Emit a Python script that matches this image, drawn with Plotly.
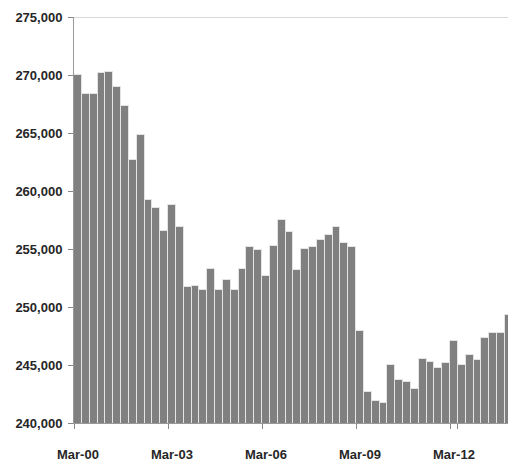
import plotly.graph_objects as go

# Quarter labels, March 2000 through December 2013
months = ["Mar", "Jun", "Sep", "Dec"]
years = ["00", "01", "02", "03", "04", "05", "06", "07", "08", "09", "10", "11", "12", "13"]
quarters = [f"{m}-{y}" for y in years for m in months]

# Quarterly values
values = [
    270000, 268400, 268400, 270200, 270300, 269000, 267300, 262700,
    264800, 259200, 258500, 256550, 258800, 256900, 251700, 251800,
    251500, 253300, 251500, 252300, 251500, 253300, 255200, 254900,
    252700, 255300, 257500, 256500, 253200, 255000, 255200, 255800,
    256200, 256900, 255500, 255200, 247900, 242700, 241900, 241700,
    245000, 243700, 243500, 242900, 245500, 245300, 244700, 245200,
    247100, 245000, 245900, 245400, 247300, 247800, 247800, 249300,
]

tick_labels = ["Mar-00", "Mar-03", "Mar-06", "Mar-09", "Mar-12"]
y_ticks = [240000, 245000, 250000, 255000, 260000, 265000, 270000, 275000]

label_font = dict(family="Liberation Sans, Arial, sans-serif", size=13,
                  color="#262626", weight="bold")

fig = go.Figure(
    go.Bar(
        x=quarters,
        y=values,
        marker=dict(color="#808080", line=dict(color="#e4e4e4", width=1)),
    )
)

fig.update_layout(
    width=508,
    height=465,
    margin=dict(l=74, r=0, t=17, b=42),
    paper_bgcolor="white",
    plot_bgcolor="white",
    bargap=0,
    showlegend=False,
    shapes=[
        dict(type="line", xref="paper", yref="y", x0=0, x1=1, y0=275000, y1=275000,
             line=dict(color="#d8d8d8", width=2)),
    ],
)

fig.update_xaxes(
    type="category",
    categoryorder="array",
    categoryarray=quarters,
    range=[-0.5, 54.9],
    tickmode="array",
    tickvals=tick_labels,
    ticktext=tick_labels,
    tickson="boundaries",
    tickangle=0,
    ticks="outside",
    ticklen=5,
    tickcolor="#888888",
    ticklabelstandoff=19,
    showline=True,
    linecolor="#999999",
    linewidth=1,
    showgrid=False,
    tickfont=label_font,
)

fig.update_yaxes(
    range=[240000, 275000],
    tickmode="array",
    tickvals=y_ticks,
    ticktext=[f"{v:,}" for v in y_ticks],
    ticks="outside",
    ticklen=5,
    tickcolor="#888888",
    ticklabelstandoff=3,
    showline=True,
    linecolor="#999999",
    linewidth=1,
    showgrid=False,
    zeroline=False,
    tickfont=label_font,
)

fig.write_html("out.html")
